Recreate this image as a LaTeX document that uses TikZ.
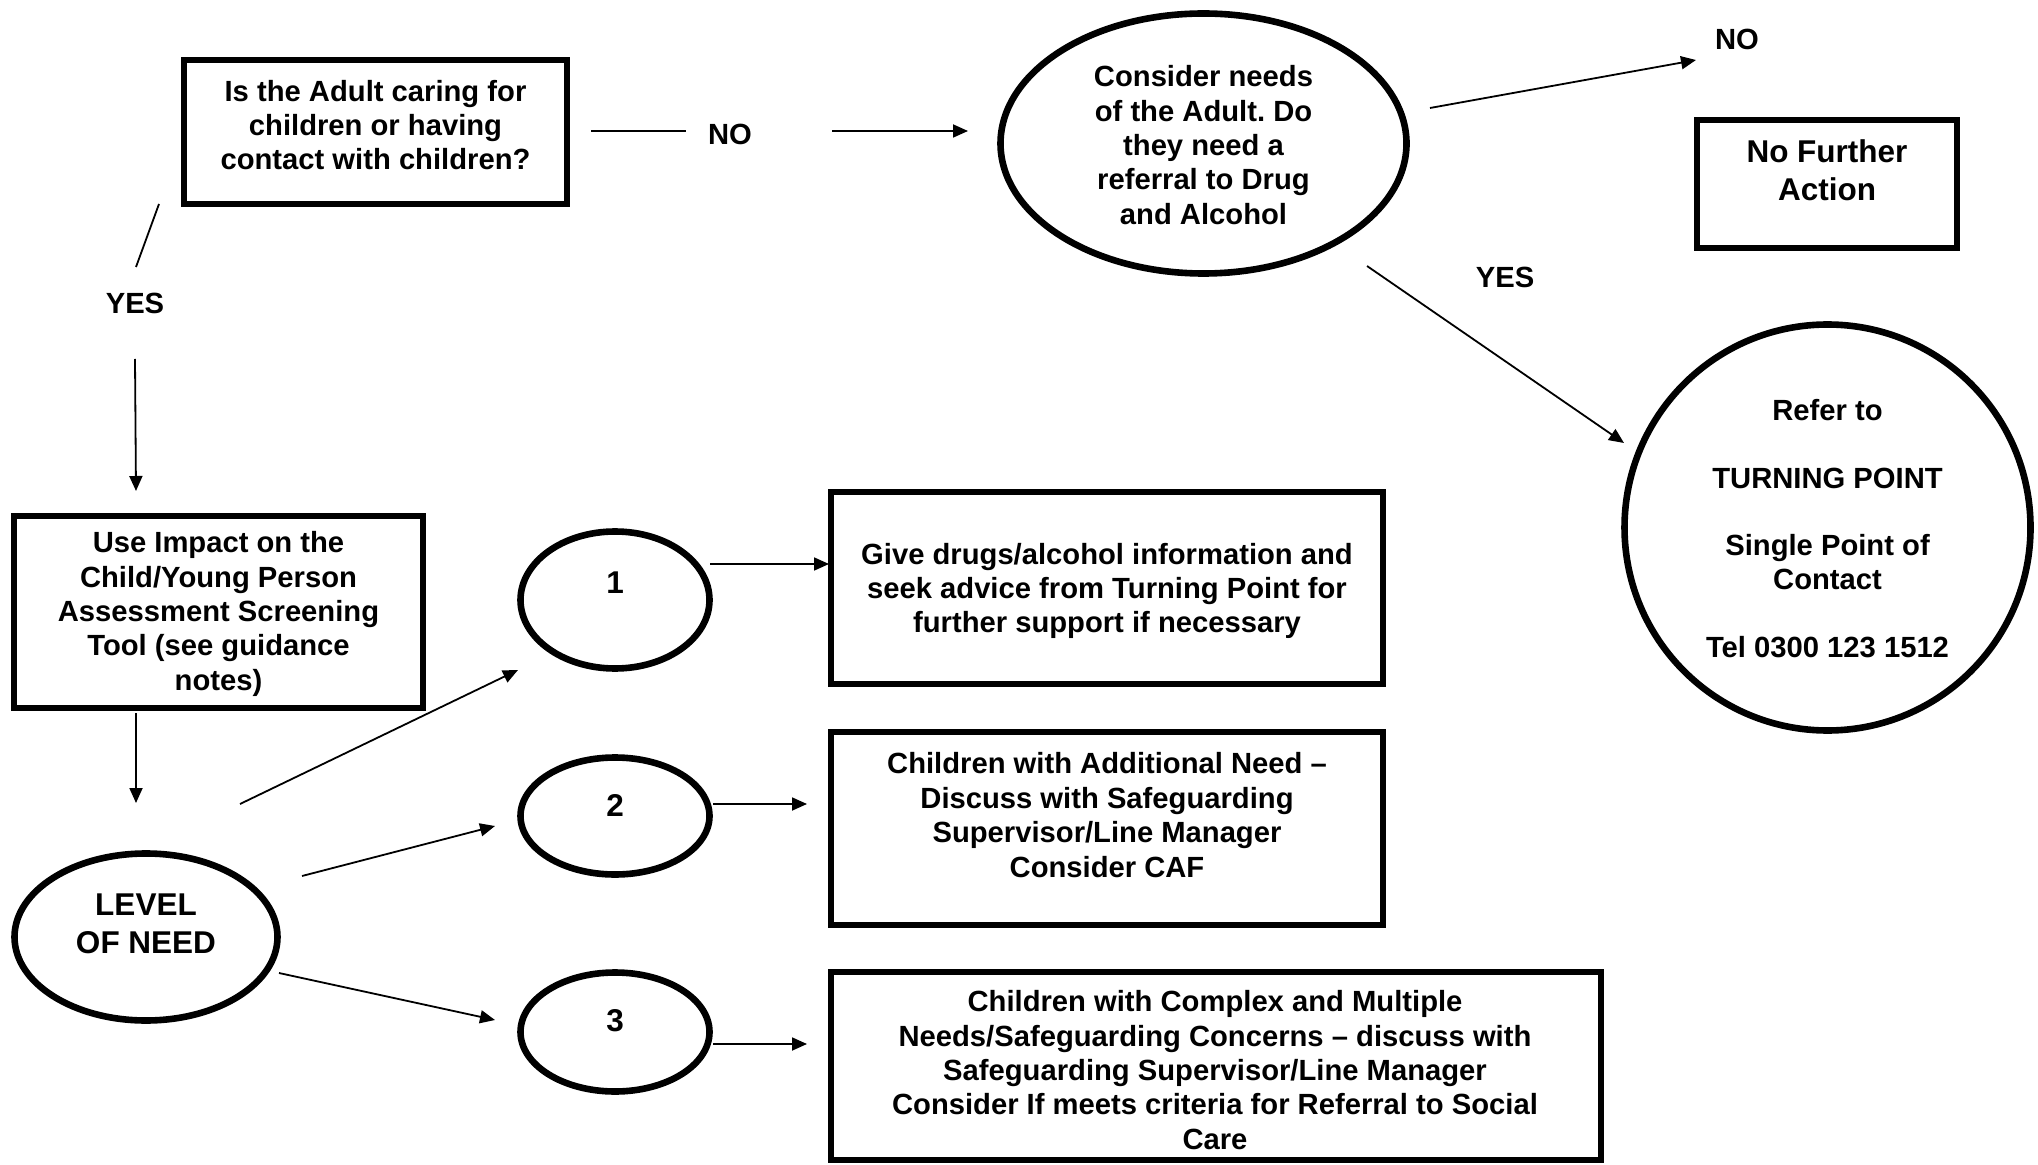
\documentclass[tikz,border=0pt]{standalone}
\usepackage{fontspec}
\setmainfont{Liberation Sans}
\usetikzlibrary{arrows.meta,shapes.geometric}
\frenchspacing
\begin{document}
\begin{tikzpicture}[x=0.5pt,y=-0.5pt,
  shapebox/.style={draw=black,line width=3pt,rectangle,inner sep=0pt},
  shapeell/.style={draw=black,line width=3.3pt,ellipse,inner sep=0pt},
  txt/.style={font=\bfseries\fontsize{14.6}{17.2}\selectfont,align=center,inner sep=0pt},
  bigtxt/.style={font=\bfseries\fontsize{15.75}{19}\selectfont,align=center,inner sep=0pt},
  conn/.style={line width=0.9pt},
  arr/.style={conn,-{Triangle[length=7.5pt,width=6.5pt]}},
]
\useasboundingbox[fill=white] (0,0) rectangle (2038,1165);

% ---------- shapes ----------
\node[shapebox,minimum width=191.5pt,minimum height=72pt] (q) at (375.5,132) {};
\node[txt] (qt) at (375.5,125) {Is the Adult caring for\\children or having\\contact with children?};

\node[shapeell,minimum width=203pt,minimum height=130pt] (cons) at (1203.5,143.5) {};
\node[txt] (const) at (1203.5,145) {Consider needs\\of the Adult. Do\\they need a\\referral to Drug\\and Alcohol};

\node[shapebox,minimum width=130pt,minimum height=64pt] (nfa) at (1827,184) {};
\node[bigtxt] (nfat) at (1827,170) {No Further\\Action};

\node[shapeell,minimum width=203pt,minimum height=203pt] (tp) at (1827.5,527.5) {};
\node[txt] (tpt) at (1827.5,528.5) {Refer to\\[16.5pt]TURNING POINT\\[16.5pt]Single Point of\\Contact\\[16.5pt]Tel 0300 123 1512};

\node[shapebox,minimum width=204.5pt,minimum height=96pt] (imp) at (218.5,612) {};
\node[txt] (impt) at (218.5,614) {Use Impact on the\\Child/Young Person\\Assessment Screening\\Tool (see guidance\\notes)};

\node[shapeell,minimum width=131.5pt,minimum height=83.5pt] (lvl) at (146,937) {};
\node[bigtxt] (lvlt) at (146,924) {LEVEL\\OF NEED};

\node[shapeell,minimum width=94.5pt,minimum height=68.5pt] (c1) at (615,600) {};
\node[bigtxt] (c1t) at (615,583) {1};
\node[shapeell,minimum width=94.5pt,minimum height=58.5pt] (c2) at (615,816) {};
\node[bigtxt] (c2t) at (615,805) {2};
\node[shapeell,minimum width=94.5pt,minimum height=59.5pt] (c3) at (615,1032) {};
\node[bigtxt] (c3t) at (615,1021) {3};

\node[shapebox,minimum width=276pt,minimum height=96pt] (ba) at (1107,588) {};
\node[txt] (bat) at (1107,591) {Give drugs/alcohol information and\\seek advice from Turning Point for\\further support if necessary};

\node[shapebox,minimum width=276pt,minimum height=96.5pt] (bb) at (1107,828.5) {};
\node[txt] (bbt) at (1107,815) {Children with Additional Need –\\Discuss with Safeguarding\\Supervisor/Line Manager\\Consider CAF};

\node[shapebox,minimum width=385pt,minimum height=94pt] (bc) at (1216,1066) {};
\node[txt] (bct) at (1215,1070) {Children with Complex and Multiple\\Needs/Safeguarding Concerns – discuss with\\Safeguarding Supervisor/Line Manager\\Consider If meets criteria for Referral to Social\\Care};

% ---------- labels ----------
\node[txt] (no1) at (730,134) {NO};
\node[txt] (no2) at (1737,39) {NO};
\node[txt] (yes1) at (135,303) {YES};
\node[txt] (yes2) at (1505,277) {YES};

% ---------- connector end points ----------
\coordinate (l1a) at (591,131);  \coordinate (l1b) at (686,131);
\coordinate (a1a) at (832,131);  \coordinate (a1b) at (968,131);
\coordinate (a2a) at (1430,108); \coordinate (a2b) at (1696,60);
\coordinate (a3a) at (1367,266); \coordinate (a3b) at (1624,443);
\coordinate (l2a) at (159,204);  \coordinate (l2b) at (136,267);
\coordinate (a4a) at (135,359);  \coordinate (a4b) at (136,491);
\coordinate (a5a) at (136,713);  \coordinate (a5b) at (136,803);
\coordinate (a6a) at (240,804);  \coordinate (a6b) at (518,670);
\coordinate (a7a) at (302,876);  \coordinate (a7b) at (495,826);
\coordinate (a8a) at (279,973);  \coordinate (a8b) at (495,1020);
\coordinate (a9a) at (710,564);  \coordinate (a9b) at (829,564);
\coordinate (a10a) at (713,804); \coordinate (a10b) at (807,804);
\coordinate (a11a) at (713,1044);\coordinate (a11b) at (807,1044);

% ---------- connectors ----------
\draw[conn] (l1a) -- (l1b);
\draw[arr] (a1a) -- (a1b);
\draw[arr] (a2a) -- (a2b);
\draw[arr] (a3a) -- (a3b);
\draw[conn] (l2a) -- (l2b);
\draw[arr] (a4a) -- (a4b);
\draw[arr] (a5a) -- (a5b);
\draw[arr] (a6a) -- (a6b);
\draw[arr] (a7a) -- (a7b);
\draw[arr] (a8a) -- (a8b);
\draw[arr] (a9a) -- (a9b);
\draw[arr] (a10a) -- (a10b);
\draw[arr] (a11a) -- (a11b);
\end{tikzpicture}
\end{document}
